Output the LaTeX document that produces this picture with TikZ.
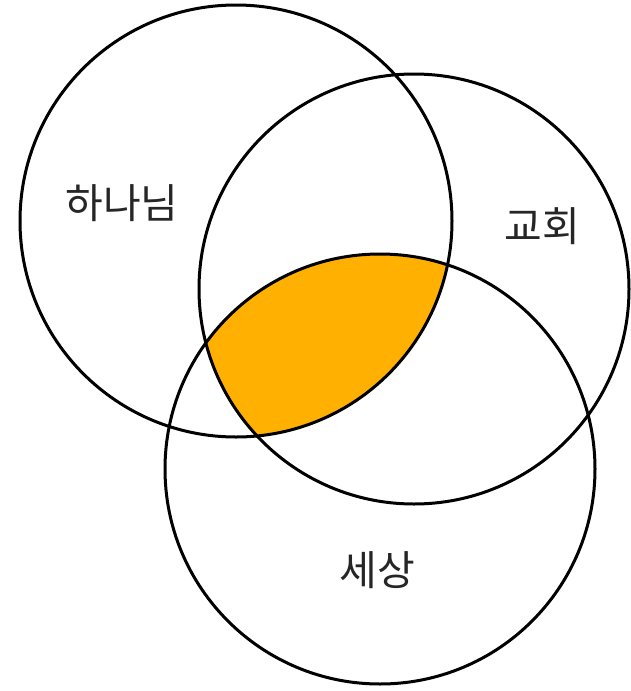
\documentclass[tikz,border=0pt]{standalone}
\usepackage{fontspec}
\newfontfamily\kr{Noto Sans CJK KR}
\definecolor{venorange}{HTML}{FFB000}
\definecolor{txtgray}{HTML}{262626}
\begin{document}
\begin{tikzpicture}[x=1pt,y=-1pt,
  ring/.style={draw=black,line width=3pt},
  lbl/.style={font=\kr\fontsize{41}{44}\selectfont,text=txtgray,inner sep=0pt}]
\useasboundingbox[fill=white] (0,0) rectangle (631,691);
\coordinate (cA) at (236,221);
\coordinate (cB) at (414,289);
\coordinate (cC) at (380,469);
\begin{scope}
  \clip (cA) circle (216);
  \clip (cB) circle (215);
  \fill[venorange] (cC) circle (215);
\end{scope}
\draw[ring] (cA) circle (216);
\draw[ring] (cB) circle (215);
\draw[ring] (cC) circle (215);
\node[lbl] (god) at (122,203) {하나님};
\node[lbl] (church) at (542,226) {교회};
\node[lbl] (world) at (377,570) {세상};
\end{tikzpicture}
\end{document}
